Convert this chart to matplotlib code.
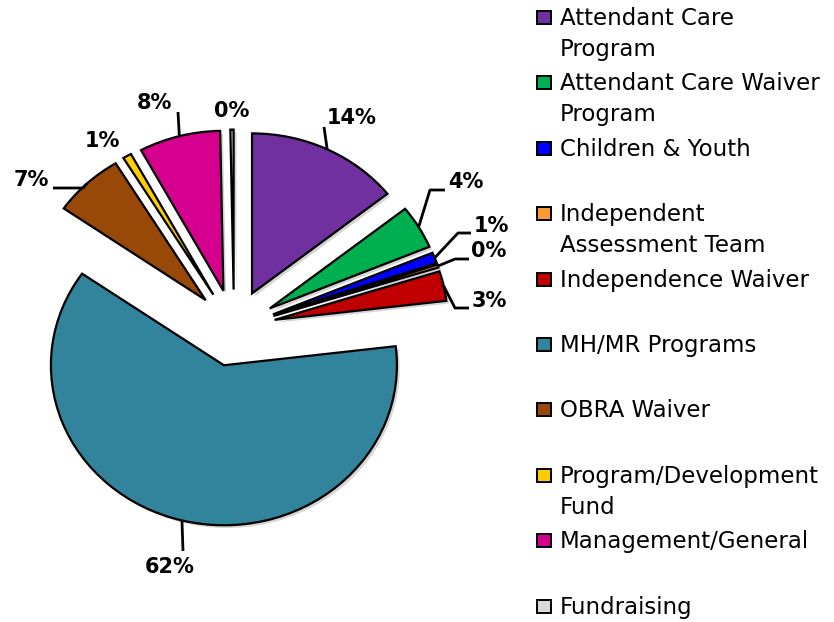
import numpy as np
import matplotlib.pyplot as plt
import matplotlib.patheffects as pe
from matplotlib.patches import Rectangle

# slice data, clockwise from 12 o'clock
categories = [
    "Attendant Care\nProgram",
    "Attendant Care Waiver\nProgram",
    "Children & Youth",
    "Independent\nAssessment Team",
    "Independence Waiver",
    "MH/MR Programs",
    "OBRA Waiver",
    "Program/Development\nFund",
    "Management/General",
    "Fundraising",
]
shares = [14.3, 4.4, 1.1, 0.3, 3.0, 61.6, 6.6, 0.8, 7.6, 0.3]
sliceColors = [
    "#7030A0", "#00B050", "#0000FF", "#FF9933", "#C00000",
    "#31849B", "#984807", "#FFCC00", "#D6008F", "#D9D9D9",
]

# layout (figure pixels, measured from the top-left corner)
figW, figH = 834, 622
pieCenterPx = (234, 328)
radiusPx = (173, 160)
labelPx = [(352, 118), (466, 182), (491, 226), (489, 251), (489, 301),
           (170, 567), (31, 180), (102, 141), (154, 103), (232, 111)]
# leader line points after the wedge anchor (None = no leader)
leaderPx = [
    [(324, 127)],
    [(430, 190), (445, 190)],
    [(458, 233), (471, 233)],
    [(455, 259), (469, 259)],
    [(455, 308), (469, 308)],
    [(183, 551)],
    [(83, 188), (53, 188)],
    None,
    [(178, 112)],
    None,
]
legendX, legendY0, legendStep, lineStep = 560, 17.5, 65.4, 31


def pixelToData(px, py):
    return ((px - pieCenterPx[0]) / radiusPx[0],
            (pieCenterPx[1] - py) / radiusPx[1])


fig = plt.figure(figsize=(figW / 100, figH / 100), dpi=100)
ax = fig.add_axes([0, 0, 1, 1])

wedges, _ = ax.pie(
    shares,
    colors=sliceColors,
    startangle=90,
    counterclock=False,
    explode=[0.24] * len(shares),
    wedgeprops=dict(edgecolor="black", linewidth=1.6),
)
for w in wedges:
    w.set_path_effects([
        pe.SimplePatchShadow(offset=(2, -2), shadow_rgbFace="#888888", alpha=0.35),
        pe.Normal(),
    ])

ax.set_aspect("auto")
ax.set_xlim(-pieCenterPx[0] / radiusPx[0], (figW - pieCenterPx[0]) / radiusPx[0])
ax.set_ylim(-(figH - pieCenterPx[1]) / radiusPx[1], pieCenterPx[1] / radiusPx[1])
ax.axis("off")

labelFont = dict(family=["DejaVu Sans"], fontsize=15, fontweight="bold")
for w, value, pos, leader in zip(wedges, shares, labelPx, leaderPx):
    mid = np.deg2rad((w.theta1 + w.theta2) / 2)
    anchor = (w.center[0] + np.cos(mid), w.center[1] + np.sin(mid))
    if leader:
        pts = [anchor] + [pixelToData(*p) for p in leader]
        xs, ys = zip(*pts)
        ax.plot(xs, ys, color="black", lw=2, solid_capstyle="butt")
    tx, ty = pixelToData(*pos)
    ax.text(tx, ty, f"{value:.0f}%", ha="center", va="center", **labelFont)

# legend drawn by hand so the wrapped entries keep Excel's spacing
for i, (name, color) in enumerate(zip(categories, sliceColors)):
    yc = legendY0 + i * legendStep
    fig.patches.append(Rectangle(
        (537 / figW, 1 - (yc + 6.5) / figH), 14 / figW, 13 / figH,
        transform=fig.transFigure, facecolor=color, edgecolor="black", linewidth=1.4,
    ))
    for j, line in enumerate(name.split("\n")):
        fig.text(
            legendX / figW, 1 - (yc + 7.5 + j * lineStep) / figH, line,
            ha="left", va="baseline", fontsize=16.5, family=["DejaVu Sans"],
        )

fig.savefig("out.png", dpi=100)
